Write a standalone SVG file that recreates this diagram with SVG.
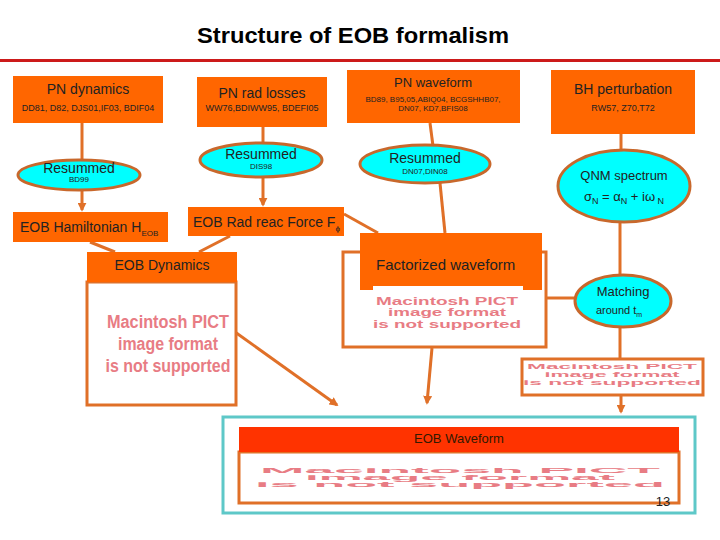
<svg xmlns="http://www.w3.org/2000/svg" width="720" height="540" viewBox="0 0 720 540">
<defs>
<style>
text{font-family:"Liberation Sans",Arial,sans-serif;fill:#222}
.box{fill:#ff6600}
.ell{fill:#00ffff;stroke:#c8682c;stroke-width:3}
.frame{fill:#fff;stroke:#e07028;stroke-width:3}
.con{stroke:#e07028;stroke-width:3;fill:none}
.t13{font-size:13px}
.t14{font-size:14px}
.t9{font-size:9px}
.t8{font-size:8px}
.pict{fill:#e87c84;font-weight:bold}
</style>
<marker id="ah" viewBox="0 0 10 10" refX="8" refY="5" markerWidth="3" markerHeight="3" orient="auto">
<path d="M0,0 L10,5 L0,10 z" fill="#e07028"/>
</marker>
</defs>
<rect width="720" height="540" fill="#fff"/>
<text x="353" y="43" text-anchor="middle" textLength="312" lengthAdjust="spacingAndGlyphs" style="font-size:22px;font-weight:bold;fill:#000">Structure of EOB formalism</text>
<rect x="0" y="59" width="720" height="3" fill="#cc1a1a"/>

<g id="connectors">
<line class="con" x1="82" y1="123" x2="82" y2="160"/>
<line class="con" x1="82" y1="190" x2="82" y2="210" marker-end="url(#ah)"/>
<line class="con" x1="263" y1="127" x2="263" y2="143"/>
<line class="con" x1="263" y1="177" x2="263" y2="205" marker-end="url(#ah)"/>
<line class="con" x1="430" y1="123" x2="433" y2="146"/>
<line class="con" x1="440" y1="183" x2="445" y2="233"/>
<line class="con" x1="90" y1="242" x2="115" y2="252"/>
<line class="con" x1="230" y1="236" x2="199" y2="252"/>
<line class="con" x1="344" y1="214" x2="378" y2="233"/>
<line class="con" x1="621" y1="134" x2="621" y2="150"/>
<line class="con" x1="620" y1="223" x2="620" y2="276"/>
<line class="con" x1="546" y1="298" x2="576" y2="298"/>
<line class="con" x1="620" y1="327" x2="620" y2="359"/>
<line class="con" x1="621" y1="395" x2="621" y2="412" marker-end="url(#ah)"/>
<line class="con" x1="432" y1="348" x2="427" y2="403" marker-end="url(#ah)"/>
<line class="con" x1="235" y1="332" x2="337" y2="405" marker-end="url(#ah)"/>
</g>

<g id="pn-dynamics">
<rect class="box" x="13" y="76" width="150" height="47"/>
<text class="t14" x="88" y="94" text-anchor="middle">PN dynamics</text>
<text class="t9" x="88" y="111" text-anchor="middle">DD81, D82, DJS01,IF03, BDIF04</text>
</g>
<g id="pn-rad-losses">
<rect class="box" x="197" y="77" width="130" height="50"/>
<text class="t14" x="262" y="98" text-anchor="middle">PN rad losses</text>
<text class="t9" x="262" y="111" text-anchor="middle">WW76,BDIWW95, BDEFI05</text>
</g>
<g id="pn-waveform">
<rect class="box" x="347" y="70" width="173" height="53"/>
<text class="t13" x="433" y="87" text-anchor="middle">PN waveform</text>
<text class="t8" x="433" y="102" text-anchor="middle">BD89, B95,05,ABIQ04, BCGSHHB07,</text>
<text class="t8" x="433" y="111" text-anchor="middle">DN07, KD7,BFIS08</text>
</g>
<g id="bh-perturbation">
<rect class="box" x="551" y="70" width="144" height="64"/>
<text class="t14" x="623" y="94" text-anchor="middle">BH perturbation</text>
<text class="t9" x="623" y="111" text-anchor="middle">RW57, Z70,T72</text>
</g>

<g id="resummed-bd99">
<ellipse class="ell" cx="79" cy="175" rx="61" ry="15"/>
<text class="t14" x="79" y="173" text-anchor="middle">Resummed</text>
<text class="t8" x="79" y="182" text-anchor="middle">BD99</text>
</g>
<g id="resummed-dis98">
<ellipse class="ell" cx="261" cy="160" rx="61" ry="17"/>
<text class="t14" x="261" y="159" text-anchor="middle">Resummed</text>
<text class="t8" x="261" y="169" text-anchor="middle">DIS98</text>
</g>
<g id="resummed-dn07">
<ellipse class="ell" cx="425" cy="164" rx="65" ry="19"/>
<text class="t14" x="425" y="163" text-anchor="middle">Resummed</text>
<text class="t8" x="425" y="174" text-anchor="middle">DN07,DIN08</text>
</g>
<g id="qnm-spectrum">
<ellipse class="ell" cx="624" cy="186" rx="66" ry="36"/>
<text class="t13" x="624" y="180" text-anchor="middle">QNM spectrum</text>
<text class="t13" x="624" y="201" text-anchor="middle">σ<tspan font-size="9" dy="3">N</tspan><tspan dy="-3"> = α</tspan><tspan font-size="9" dy="3">N</tspan><tspan dy="-3"> + iω</tspan><tspan font-size="9" dy="3"> N</tspan></text>
</g>

<g id="eob-hamiltonian">
<rect class="box" x="13" y="212" width="155" height="30"/>
<text class="t14" x="20" y="232">EOB Hamiltonian H<tspan font-size="8" dy="4">EOB</tspan></text>
</g>
<g id="eob-rad-reac">
<rect class="box" x="188" y="207" width="156" height="29"/>
<text class="t14" x="193" y="227">EOB Rad reac Force F<tspan font-size="8" dy="4">ϕ</tspan></text>
</g>
<g id="eob-dynamics">
<rect class="frame" x="87" y="282" width="149" height="123"/>
<rect class="box" x="87" y="252" width="150" height="30"/>
<text class="t14" x="162" y="270" text-anchor="middle">EOB Dynamics</text>
<text class="pict" x="168" y="328" text-anchor="middle" font-size="18" textLength="122" lengthAdjust="spacingAndGlyphs">Macintosh PICT</text>
<text class="pict" x="168" y="350" text-anchor="middle" font-size="18" textLength="100" lengthAdjust="spacingAndGlyphs">image format</text>
<text class="pict" x="168" y="372" text-anchor="middle" font-size="18" textLength="125" lengthAdjust="spacingAndGlyphs">is not supported</text>
</g>

<g id="factorized-waveform">
<rect class="frame" x="343" y="252" width="203" height="95"/>
<rect class="box" x="360" y="233" width="182" height="57"/>
<rect x="373" y="286" width="150" height="55" fill="#fff"/>
<text x="376" y="270" font-size="15">Factorized waveform</text>
<text class="pict" x="447" y="305" text-anchor="middle" font-size="11" textLength="142" lengthAdjust="spacingAndGlyphs">Macintosh PICT</text>
<text class="pict" x="447" y="316" text-anchor="middle" font-size="11" textLength="118" lengthAdjust="spacingAndGlyphs">image format</text>
<text class="pict" x="447" y="328" text-anchor="middle" font-size="11" textLength="148" lengthAdjust="spacingAndGlyphs">is not supported</text>
</g>

<g id="matching">
<ellipse class="ell" cx="623" cy="301" rx="48" ry="26"/>
<text class="t13" x="623" y="296" text-anchor="middle">Matching</text>
<text x="619" y="314" text-anchor="middle" font-size="11">around t<tspan font-size="7" dy="3">m</tspan></text>
</g>

<g id="qnm-pict">
<rect class="frame" x="522" y="359" width="181" height="36"/>
<text class="pict" x="612" y="369" text-anchor="middle" font-size="8" textLength="170" lengthAdjust="spacingAndGlyphs">Macintosh PICT</text>
<text class="pict" x="612" y="377" text-anchor="middle" font-size="8" textLength="135" lengthAdjust="spacingAndGlyphs">image format</text>
<text class="pict" x="612" y="385" text-anchor="middle" font-size="8" textLength="178" lengthAdjust="spacingAndGlyphs">is not supported</text>
</g>

<g id="eob-waveform">
<rect x="223" y="417" width="472" height="96" fill="#fff" stroke="#5ec8c8" stroke-width="3"/>
<rect x="239" y="452" width="440" height="51" fill="#fff" stroke="#e07028" stroke-width="3"/>
<rect x="239" y="427" width="440" height="25" fill="#ff3300"/>
<text class="t13" x="459" y="443" text-anchor="middle" style="fill:#331a00">EOB Waveform</text>
<text class="pict" x="460" y="473" text-anchor="middle" font-size="7" textLength="400" lengthAdjust="spacingAndGlyphs">Macintosh PICT</text>
<text class="pict" x="460" y="480" text-anchor="middle" font-size="7" textLength="310" lengthAdjust="spacingAndGlyphs">image format</text>
<text class="pict" x="460" y="487" text-anchor="middle" font-size="7" textLength="410" lengthAdjust="spacingAndGlyphs">is not supported</text>
</g>
<text x="663" y="506" text-anchor="middle" font-size="13">13</text>
</svg>
